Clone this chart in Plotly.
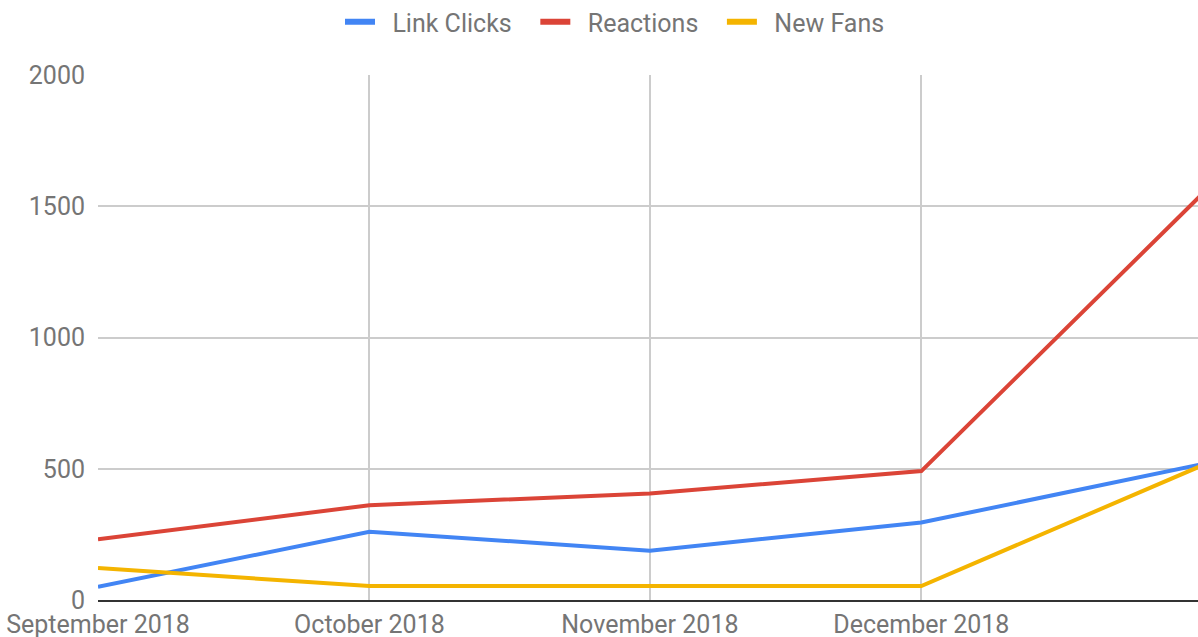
import plotly.graph_objects as go

months = ["2018-09-01", "2018-10-01", "2018-11-01", "2018-12-01", "2019-01-01"]
link_clicks = [50, 260, 188, 295, 517]
reactions = [231, 361, 406, 491, 1545]
new_fans = [122, 53, 53, 53, 512]

series = [
    ("Link Clicks", link_clicks, "#4285F4"),
    ("Reactions", reactions, "#DB4437"),
    ("New Fans", new_fans, "#F4B400"),
]

NB = "\u00a0"
fig = go.Figure()
for name, vals, color in series:
    fig.add_trace(go.Scatter(x=months, y=vals, name=name, mode="lines",
                             line=dict(color=color, width=4), showlegend=False))
# legend entries (thicker swatches, spacing as in the reference)
for name, vals, color in series:
    fig.add_trace(go.Scatter(x=[None], y=[None], mode="lines",
                             name=NB * 2 + name + NB * 3,
                             line=dict(color=color, width=6), hoverinfo="skip"))

W, H = 1198, 637
fig.update_layout(
    width=W, height=H,
    margin=dict(l=98, r=0, t=75, b=37),
    paper_bgcolor="white", plot_bgcolor="white",
    font=dict(family="Roboto", size=25, color="#757575"),
    legend=dict(orientation="h", x=(340 - 98) / 1100, xanchor="left",
                y=1 - 22 / H, yanchor="middle", yref="container",
                font=dict(size=25, color="#757575"), itemwidth=30),
    showlegend=True,
)
fig.update_xaxes(type="date", range=["2018-09-01", "2018-12-31 14:00"],
                 tick0="2018-09-01", dtick="M1", tickformat="%B %Y",
                 showgrid=True, gridcolor="#cccccc", gridwidth=1.5,
                 showline=True, linecolor="#333333", linewidth=2,
                 zeroline=False, ticks="", ticklabelstandoff=1,
                 ticklabeloverflow="allow", automargin=False)
fig.update_yaxes(range=[0, 2000], dtick=500, showgrid=True, gridcolor="#cccccc",
                 gridwidth=1.5, zeroline=False, ticks="", ticklabelstandoff=12,
                 automargin=False)

fig.write_html("out.html", config={"displayModeBar": False},
               post_script="document.body.style.margin='0';"
                           "document.body.style.overflow='hidden';")
